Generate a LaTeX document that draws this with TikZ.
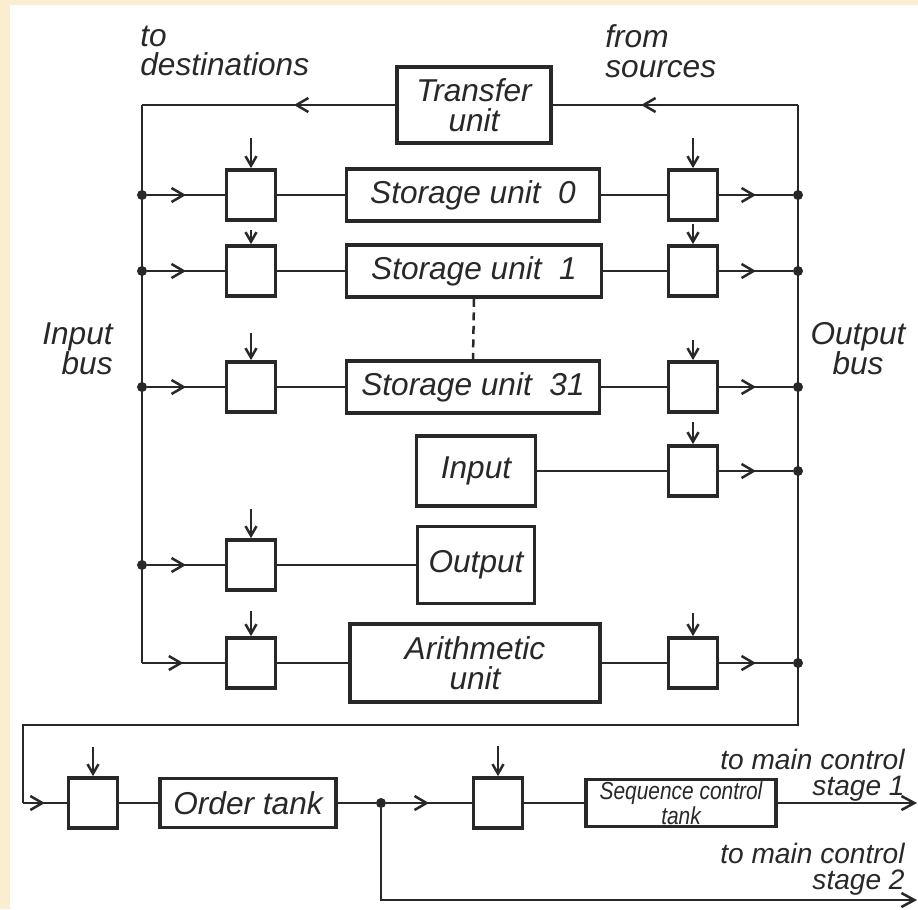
\documentclass[tikz,border=0pt]{standalone}
\usepackage{fontspec}
\setmainfont{Liberation Sans}
\newfontfamily\narrowfont[FakeStretch=0.85]{Liberation Sans}
\usetikzlibrary{arrows.meta,decorations.markings}
\definecolor{paper}{RGB}{250,237,208}
\definecolor{ink}{RGB}{40,40,40}
\tikzset{
	box/.style={draw=ink, line width=0.75mm, inner sep=0pt, align=center, text=ink, font={\fontsize{18}{17}\selectfont\itshape}},
	gatebox/.style={box, minimum width=0.98cm, minimum height=1cm},
	wire/.style={draw=ink, line width=0.5mm},
	midarrow/.style={wire, decoration={markings, mark=at position #1 with {\arrow{Straight Barb[length=2.4mm,width=2.8mm]}}}, postaction={decorate}},
	midarrow/.default=0.5,
	ctrl/.style={wire, -{Straight Barb[length=1.9mm,width=2.2mm]}},
	endarrow/.style={wire, -{Straight Barb[length=2.6mm,width=2.8mm]}},
	dot/.style={circle, fill=ink, inner sep=0pt, minimum size=2mm},
	lbl/.style={inner sep=0pt, text=ink, font={\fontsize{18}{17}\selectfont\itshape}},
	smalllbl/.style={lbl, font={\fontsize{16}{15}\selectfont\itshape}},
}
\def\ctrlgate(#1)(#2,#3)(#4){\node[gatebox] (#1) at (#2,#3) {}; \coordinate (#1t) at (#2,#3-25-#4); \draw[ctrl] (#1t) -- (#1.north);}

\begin{document}
\begin{tikzpicture}[x=0.02cm, y=-0.02cm]
	%%%%% START %%%%%
	
	\fill[paper] (0,0) rectangle (918,909);
	\fill[white] (10,5) rectangle (918,909);
	\useasboundingbox (0,0) rectangle (918,909);
	
	\coordinate (ibtop) at (142,105);
	\coordinate (ibbot) at (142,663);
	\coordinate (obtop) at (798,105);
	\coordinate (obbot) at (798,725);
	\coordinate (loopl) at (23,725);
	\coordinate (loopin) at (23,803);
	
	\node[box, minimum width=3.08cm, minimum height=1.52cm] (tu) at (474,105) {Transfer\\unit};
	\draw[midarrow=0.64] (obtop) -- (tu.east);
	\draw[midarrow=0.4] (tu.west) -- (ibtop);
	\draw[wire] (ibtop) -- (ibbot);
	\draw[wire] (obtop) -- (obbot) -- (loopl) -- (loopin);
	
	\node[lbl, align=left, anchor=west] (todest) at (140,51) {to\\destinations};
	\node[lbl, align=left, anchor=west] (fromsrc) at (605,51) {from\\sources};
	\node[lbl, align=right, anchor=east] (inbus) at (113,349) {Input\\bus};
	\node[lbl, align=center] (outbus) at (858,349) {Output\\bus};
	
	% storage units
	\node[dot] (ib0) at (142,195) {};
	\ctrlgate(gl0)(251,195)(32)
	\node[box, minimum width=5.06cm, minimum height=1.04cm] (su0) at (473,195) {Storage unit\ \ 0};
	\ctrlgate(gr0)(693,195)(32)
	\node[dot] (ob0) at (798,195) {};
	\draw[midarrow] (ib0) -- (gl0);
	\draw[wire] (gl0) -- (su0);
	\draw[wire] (su0) -- (gr0);
	\draw[midarrow] (gr0) -- (ob0);
	
	\node[dot] (ib1) at (142,271) {};
	\ctrlgate(gl1)(251,271)(16)
	\node[box, minimum width=5.1cm, minimum height=1.04cm] (su1) at (474,271) {Storage unit\ \ 1};
	\ctrlgate(gr1)(693,271)(22)
	\node[dot] (ob1) at (798,271) {};
	\draw[midarrow] (ib1) -- (gl1);
	\draw[wire] (gl1) -- (su1);
	\draw[wire] (su1) -- (gr1);
	\draw[midarrow] (gr1) -- (ob1);
	
	\node[dot] (ib31) at (142,387) {};
	\ctrlgate(gl31)(251,387)(29)
	\node[box, minimum width=5.06cm, minimum height=1.04cm] (su31) at (473,387) {Storage unit\ \ 31};
	\ctrlgate(gr31)(693,387)(22)
	\node[dot] (ob31) at (798,387) {};
	\draw[midarrow] (ib31) -- (gl31);
	\draw[wire] (gl31) -- (su31);
	\draw[wire] (su31) -- (gr31);
	\draw[midarrow] (gr31) -- (ob31);
	
	\draw[wire, dash pattern=on 1.6mm off 1.1mm] (su1.south) -- (su31.north);
	
	% input, output, arithmetic
	\node[box, minimum width=2.38cm, minimum height=1.4cm] (inp) at (476,471) {Input};
	\ctrlgate(grin)(693,471)(24)
	\node[dot] (obin) at (798,471) {};
	\draw[wire] (inp) -- (grin);
	\draw[midarrow] (grin) -- (obin);
	
	\node[dot] (ibout) at (142,565) {};
	\ctrlgate(glout)(251,565)(31)
	\node[box, minimum width=2.34cm, minimum height=1.54cm] (outp) at (476,565) {Output};
	\draw[midarrow] (ibout) -- (glout);
	\draw[wire] (glout) -- (outp);
	
	\ctrlgate(glar)(251,663)(27)
	\node[box, minimum width=5cm, minimum height=1.56cm] (ar) at (475,663) {Arithmetic\\unit};
	\ctrlgate(grar)(693,663)(25)
	\node[dot] (obar) at (798,663) {};
	\draw[midarrow] (ibbot) -- (glar);
	\draw[wire] (glar) -- (ar);
	\draw[wire] (ar) -- (grar);
	\draw[midarrow] (grar) -- (obar);
	
	% order path
	\ctrlgate(gb1)(93,803)(31)
	\node[box, minimum width=3.52cm, minimum height=0.98cm] (ot) at (248,803) {Order tank};
	\node[dot] (jb) at (381,803) {};
	\ctrlgate(gb2)(498,803)(32)
	\node[box, minimum width=3.8cm, minimum height=0.94cm, font={\narrowfont\fontsize{14}{11}\selectfont\itshape}] (sct) at (681,803) {Sequence control\\tank};
	\coordinate (s1end) at (917,803);
	\coordinate (s2corner) at (381,900);
	\coordinate (s2end) at (917,900);
	\draw[midarrow] (loopin) -- (gb1);
	\draw[wire] (gb1) -- (ot);
	\draw[wire] (ot) -- (jb);
	\draw[midarrow] (jb) -- (gb2);
	\draw[wire] (gb2) -- (sct);
	\draw[endarrow] (sct) -- (s1end);
	\draw[endarrow] (jb) -- (s2corner) -- (s2end);
	
	\node[smalllbl, align=right, anchor=east] (stage1) at (905,775) {to main control\\stage 1};
	\node[smalllbl, align=right, anchor=east] (stage2) at (905,869) {to main control\\stage 2};
	
	%%%%% END %%%%%
\end{tikzpicture}
\end{document}
